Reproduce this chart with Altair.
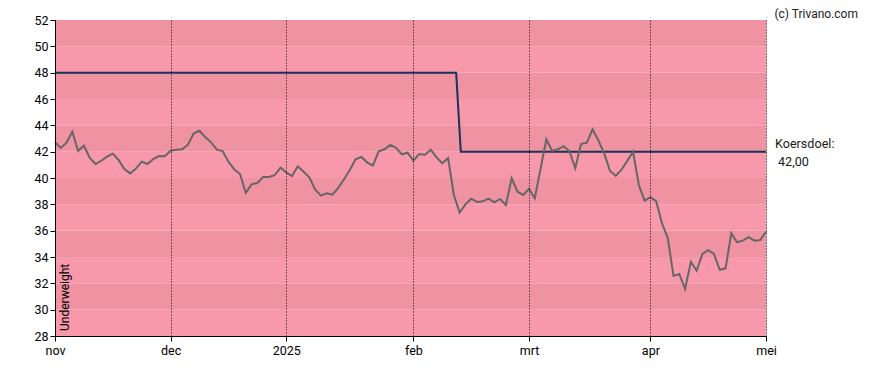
import altair as alt
import pandas as pd

# Closing prices per trading day (index 0 = first trading day of Nov 2024)
prices = [
    42.71, 42.28, 42.68, 43.52, 42.05, 42.45, 41.54, 41.06, 41.31, 41.62,
    41.85, 41.37, 40.68, 40.35, 40.71, 41.24, 41.06, 41.44, 41.67, 41.65,
    42.07, 42.15, 42.18, 42.53, 43.39, 43.59, 43.11, 42.71, 42.15, 42.05,
    41.24, 40.66, 40.30, 38.88, 39.52, 39.62, 40.08, 40.08, 40.21, 40.79,
    40.43, 40.15, 40.89, 40.48, 40.05, 39.14, 38.66, 38.84, 38.73, 39.24,
    39.90, 40.61, 41.42, 41.60, 41.19, 40.94, 42.02, 42.18, 42.51, 42.30,
    41.80, 41.92, 41.31, 41.82, 41.77, 42.15, 41.57, 41.12, 41.52, 38.71,
    37.37, 38.00, 38.43, 38.18, 38.23, 38.43, 38.15, 38.41, 37.95, 39.98,
    38.96, 38.71, 39.18, 38.46, 40.70, 42.94, 42.06, 42.18, 42.42, 42.03,
    40.74, 42.58, 42.68, 43.70, 42.86, 41.87, 40.56, 40.16, 40.63, 41.30,
    41.99, 39.47, 38.28, 38.55, 38.24, 36.56, 35.46, 32.57, 32.71, 31.57,
    33.64, 32.95, 34.23, 34.52, 34.23, 33.03, 33.14, 35.80, 35.12, 35.24,
    35.50, 35.24, 35.29, 35.92,
]

# Price target (koersdoel) step line
target_x = [0, 69.4, 70.2, 123]
target_y = [48, 48, 42, 42]

# x-axis ticks (trading-day index) and labels
tick_pos = [0, 20, 40, 62, 82, 103, 123]
tick_labels = ["nov", "dec", "2025", "feb", "mrt", "apr", "mei"]

# y-axis ticks
y_ticks = [28, 30, 32, 34, 36, 38, 40, 42, 44, 46, 48, 50, 52]

# background bands
band_lo = [28, 30, 32, 34, 36, 38, 40, 42, 44, 46, 48, 50]
band_hi = [30, 32, 34, 36, 38, 40, 42, 44, 46, 48, 50, 52]
band_shade = ["light", "dark", "light", "dark", "light", "dark",
              "light", "dark", "light", "dark", "light", "dark"]

FONT = "Roboto"
X_MAX = 123

price_df = pd.DataFrame({"i": list(range(len(prices))), "price": prices})
target_df = pd.DataFrame({"i": target_x, "target": target_y})
band_df = pd.DataFrame({"lo": band_lo, "hi": band_hi, "shade": band_shade,
                        "x0": [0] * len(band_lo), "x1": [X_MAX] * len(band_lo)})

label_expr = ""
for p, l in zip(tick_pos, tick_labels):
    label_expr += f"datum.value == {p} ? '{l}' : "
label_expr += "''"

xscale = alt.Scale(domain=[0, X_MAX], nice=False, zero=False)
yscale = alt.Scale(domain=[28, 52], nice=False, zero=False)

xaxis = alt.Axis(values=tick_pos, labelExpr=label_expr, title=None,
                 grid=True, gridDash=[1, 2], gridColor="#000", gridOpacity=1,
                 gridWidth=1, zindex=1, domainColor="#000", tickColor="#000",
                 tickSize=5, labelColor="#000", labelFontSize=12.5, labelFont=FONT,
                 labelPadding=3, labelFlush=False, labelOverlap=False)
yaxis = alt.Axis(values=y_ticks, title=None, grid=False, domainColor="#000",
                 tickColor="#000", tickSize=5, labelColor="#000",
                 labelFontSize=12.5, labelFont=FONT, labelPadding=2, zindex=1,
                 labelOverlap=False, tickCount=13)


def X(field):
    return alt.X(field, scale=xscale, axis=xaxis)


def Y(field):
    return alt.Y(field, scale=yscale, axis=yaxis)


bands = alt.Chart(band_df).mark_rect().encode(
    x=X("x0:Q"),
    x2="x1:Q",
    y=Y("lo:Q"),
    y2="hi:Q",
    color=alt.Color("shade:N", scale=alt.Scale(domain=["light", "dark"],
                                               range=["#F799AA", "#EF93A2"]),
                    legend=None),
)

price_line = alt.Chart(price_df).mark_line(color="#666666", strokeWidth=2).encode(
    x=X("i:Q"), y=Y("price:Q"))

target_line = alt.Chart(target_df).mark_line(color="#17345a", strokeWidth=2).encode(
    x=X("i:Q"), y=Y("target:Q"))

label_df = pd.DataFrame({"i": [X_MAX, X_MAX], "v": [42, 42],
                         "txt": ["Koersdoel:", "42,00"], "row": [0, 1]})
koers1 = alt.Chart(label_df[label_df.row == 0]).mark_text(
    align="left", baseline="middle", dx=9, dy=-8, fontSize=12.6, font=FONT,
    color="#1a1a1a").encode(x=X("i:Q"), y=Y("v:Q"), text="txt:N")
koers2 = alt.Chart(label_df[label_df.row == 1]).mark_text(
    align="left", baseline="middle", dx=12, dy=10, fontSize=12.6, font=FONT,
    color="#1a1a1a").encode(x=X("i:Q"), y=Y("v:Q"), text="txt:N")

uw_df = pd.DataFrame({"i": [0], "v": [28], "txt": ["Underweight"]})
underweight = alt.Chart(uw_df).mark_text(
    align="left", baseline="middle", angle=270, dx=5, dy=10, fontSize=12,
    font=FONT, color="#000").encode(x=X("i:Q"), y=Y("v:Q"), text="txt:N")

credit_df = pd.DataFrame({"i": [X_MAX], "v": [52], "txt": ["(c) Trivano.com"]})
credit = alt.Chart(credit_df).mark_text(
    align="right", baseline="middle", dx=92, dy=-6, fontSize=12, font=FONT,
    color="#222").encode(x=X("i:Q"), y=Y("v:Q"), text="txt:N")

chart = alt.layer(bands, target_line, price_line, koers1, koers2, underweight,
                  credit).properties(
    width=711, height=316,
    autosize=alt.AutoSizeParams(type="none"),
    padding={"left": 47, "top": 12, "right": 110, "bottom": 22},
).configure_view(stroke="#000", strokeWidth=1).configure(background="white")

chart.save("out.html", embed_options={"renderer": "svg", "actions": False})
